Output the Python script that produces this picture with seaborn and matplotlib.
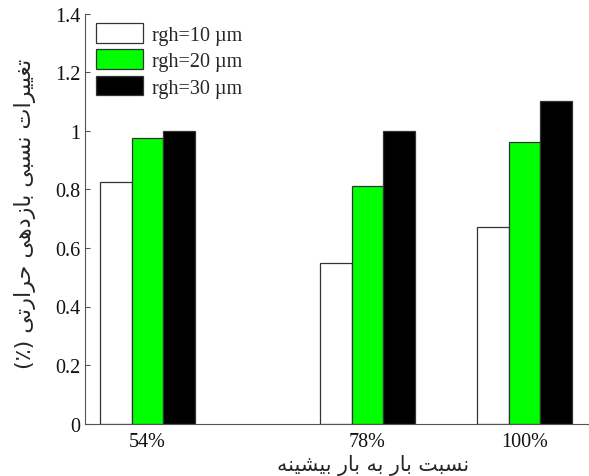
import numpy as np
import pandas as pd
import matplotlib
matplotlib.use("Agg")
import matplotlib.pyplot as plt
import seaborn as sns
from matplotlib.ticker import FormatStrFormatter

# ---- data -------------------------------------------------------------
loads = ["54%", "78%", "100%"]
roughness = ["rgh=10 µm", "rgh=20 µm", "rgh=30 µm"]
rgh10 = [0.825, 0.549, 0.671]
rgh20 = [0.976, 0.811, 0.963]
rgh30 = [1.0, 1.0, 1.1]
colors = ["#ffffff", "#00ff00", "#000000"]
y_label = "تغییرات نسبی بازدهی حرارتی (٪)"
x_label = "نسبت بار به بار بیشینه"

# group centres on the x axis (uneven spacing between load cases)
group_pos = [1.0, 2.4, 3.4]

# ---- minimal Persian shaping (presentation forms + visual order) ------
_FORMS = {  # isolated, final, initial, medial
    "ا": ("\uFE8D", "\uFE8E", None, None),
    "ب": ("\uFE8F", "\uFE90", "\uFE91", "\uFE92"),
    "ت": ("\uFE95", "\uFE96", "\uFE97", "\uFE98"),
    "ح": ("\uFEA1", "\uFEA2", "\uFEA3", "\uFEA4"),
    "د": ("\uFEA9", "\uFEAA", None, None),
    "ر": ("\uFEAD", "\uFEAE", None, None),
    "ز": ("\uFEAF", "\uFEB0", None, None),
    "س": ("\uFEB1", "\uFEB2", "\uFEB3", "\uFEB4"),
    "ش": ("\uFEB5", "\uFEB6", "\uFEB7", "\uFEB8"),
    "غ": ("\uFECD", "\uFECE", "\uFECF", "\uFED0"),
    "ن": ("\uFEE5", "\uFEE6", "\uFEE7", "\uFEE8"),
    "ه": ("\uFEE9", "\uFEEA", "\uFEEB", "\uFEEC"),
    "ی": ("\uFEEF", "\uFEF0", "\uFEF3", "\uFEF4"),
}
_MIRROR = {"(": ")", ")": "("}


def shape_rtl(text):
    out = []
    n = len(text)
    for i, c in enumerate(text):
        f = _FORMS.get(c)
        if f is None:
            out.append(_MIRROR.get(c, c))
            continue
        prev = text[i - 1] if i > 0 else ""
        nxt = text[i + 1] if i + 1 < n else ""
        jp = prev in _FORMS and _FORMS[prev][2] is not None
        jn = f[2] is not None and nxt in _FORMS
        if jp and jn:
            out.append(f[3])
        elif jp:
            out.append(f[1])
        elif jn:
            out.append(f[2])
        else:
            out.append(f[0])
    return "".join(reversed(out))


# ---- figure -----------------------------------------------------------
sns.set_style("ticks")
plt.rcParams["font.family"] = ["Liberation Serif", "DejaVu Sans"]
plt.rcParams["axes.edgecolor"] = "#555555"
plt.rcParams["axes.linewidth"] = 0.8

df = pd.DataFrame({
    "pos": np.repeat(group_pos, 3),
    "value": np.ravel(np.column_stack([rgh10, rgh20, rgh30])),
    "rgh": roughness * len(loads),
})

fig = plt.figure(figsize=(5.89, 4.77), dpi=100)
ax = fig.add_axes([84.5 / 589, 52.3 / 477, 565.9 / 589, 410.2 / 477])

sns.barplot(data=df, x="pos", y="value", hue="rgh", hue_order=roughness,
            palette=colors, native_scale=True, width=0.6, gap=0,
            edgecolor="#333333", linewidth=0.9, saturation=1, errorbar=None,
            ax=ax)

ax.set_xlim(0.6, 4.2)
ax.set_ylim(0, 1.4)
ax.set_xticks(group_pos, loads)
ax.set_yticks(np.linspace(0, 1.4, 8))
ax.yaxis.set_major_formatter(FormatStrFormatter("%g"))
ax.tick_params(direction="in", labelsize=14.5, colors="#555555",
               labelcolor="#111111")
ax.tick_params(axis="x", pad=6)
ax.tick_params(axis="y", pad=3)
sns.despine(ax=ax)

ax.set_xlabel(shape_rtl(x_label), fontsize=14.8, family=["DejaVu Sans"])
ax.set_ylabel(shape_rtl(y_label), fontsize=16, family=["DejaVu Sans"])
ax.xaxis.set_label_coords(0.51, -0.073)
ax.yaxis.set_label_coords(-0.0857, 0.515)

sns.move_legend(ax, "upper left", bbox_to_anchor=(0.0203, 0.977),
                frameon=False, title=None, fontsize=14.5, handlelength=2.33,
                handleheight=1.12, labelspacing=0.24, borderaxespad=0,
                borderpad=0, handletextpad=0.45)

fig.savefig("out.png", dpi=100)
